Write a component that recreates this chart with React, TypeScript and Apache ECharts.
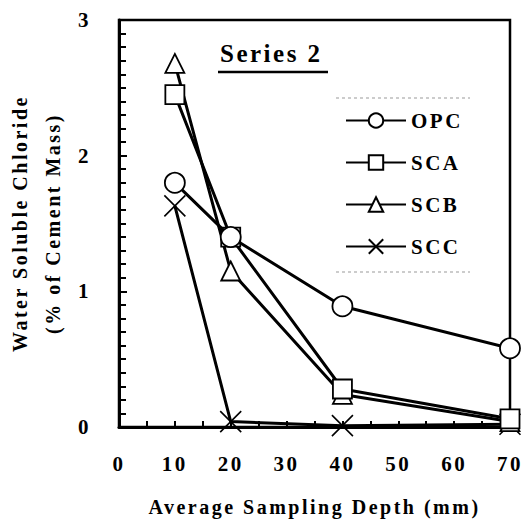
import React, { useEffect, useRef } from "react";
import * as echarts from "echarts";

const depths = [10, 20, 40, 70];
const opc = [1.8, 1.4, 0.89, 0.58];
const sca = [2.45, 1.4, 0.28, 0.06];
const scb = [2.68, 1.15, 0.24, 0.04];
const scc = [1.63, 0.04, 0.01, 0.02];
const seriesNames = ["OPC", "SCA", "SCB", "SCC"];
const chartTitle = "Series 2";
const xTitle = "Average Sampling Depth (mm)";
const yTitle = "Water Soluble Chloride\n(% of Cement Mass)";

const FONT = "Liberation Serif";

export default function App() {
  const ref = useRef<HTMLDivElement>(null);
  useEffect(() => {
    if (!ref.current) return;
    const chart = echarts.init(ref.current, undefined, { renderer: "svg" });
    const pair = (vals: number[]) => depths.map((d, i) => [d, vals[i]]);
    const symbols = ["circle", "rect", "triangle", "path://M0,0L20,20M20,0L0,20"];
    const sizes = [20, 19, 19, 21];
    const data = [opc, sca, scb, scc];
    const series = seriesNames.map((name, i) => ({
      name,
      type: "line",
      data: pair(data[i]),
      symbol: symbols[i],
      symbolSize: sizes[i],
      showAllSymbol: true,
      z: 10 - i,
      lineStyle: { color: "#000", width: 3 },
      itemStyle: {
        color: i === 3 ? "transparent" : "#fff",
        borderColor: "#000",
        borderWidth: i === 3 ? 1.6 : 1.8,
      },
    }));
    chart.setOption({
      animation: false,
      backgroundColor: "#fff",
      textStyle: { fontFamily: FONT, fontWeight: "bold", color: "#000" },
      grid: {
        left: 119,
        top: 20,
        width: 391,
        height: 407,
        containLabel: false,
        outerBoundsMode: "none",
        show: true,
        borderColor: "#000",
        borderWidth: 2.5,
      },
      legend: {
        orient: "vertical",
        left: 345,
        top: 110,
        padding: 0,
        itemWidth: 60,
        itemHeight: 18,
        itemGap: 21,
        data: seriesNames,
        textStyle: { fontFamily: FONT, fontWeight: "bold", fontSize: 21, color: "#000" },
      },
      xAxis: {
        type: "value",
        min: 0,
        max: 70,
        interval: 10,
        name: xTitle,
        nameLocation: "middle",
        nameGap: 70,
        nameTextStyle: { fontFamily: FONT, fontWeight: "bold", fontSize: 20, color: "#000" },
        axisLine: { lineStyle: { color: "#000", width: 3 } },
        axisTick: { inside: true, length: 6, lineStyle: { color: "#000", width: 2 } },
        minorTick: { show: true, splitNumber: 2, length: 6, lineStyle: { color: "#000", width: 2 } },
        splitLine: { show: false },
        axisLabel: { margin: 26, fontFamily: FONT, fontWeight: "bold", fontSize: 21, color: "#000" },
      },
      yAxis: {
        type: "value",
        min: 0,
        max: 3,
        interval: 1,
        name: yTitle,
        nameLocation: "middle",
        nameRotate: 90,
        nameGap: 44,
        nameTextStyle: { fontFamily: FONT, fontWeight: "bold", fontSize: 20, lineHeight: 33, color: "#000" },
        axisLine: { lineStyle: { color: "#000", width: 3 } },
        axisTick: { inside: true, length: 8, lineStyle: { color: "#000", width: 2 } },
        minorTick: { show: true, splitNumber: 10, length: 7, lineStyle: { color: "#000", width: 2 } },
        splitLine: { show: false },
        axisLabel: { margin: 28, fontFamily: FONT, fontWeight: "bold", fontSize: 21, color: "#000" },
      },
      graphic: [
        {
          type: "text",
          left: 220,
          top: 41,
          style: { text: chartTitle, fontFamily: FONT, fontWeight: "bold", fontSize: 25, fill: "#000" },
        },
        {
          type: "line",
          shape: { x1: 218, y1: 72, x2: 328, y2: 72 },
          style: { stroke: "#000", lineWidth: 2.5 },
        },
        {
          type: "line",
          shape: { x1: 336, y1: 98, x2: 470, y2: 98 },
          style: { stroke: "#999", lineWidth: 1, lineDash: [3, 3] },
        },
        {
          type: "line",
          shape: { x1: 336, y1: 272, x2: 470, y2: 272 },
          style: { stroke: "#999", lineWidth: 1, lineDash: [3, 3] },
        },
      ],
      series,
    });
    return () => chart.dispose();
  }, []);
  return (
    <div
      ref={ref}
      style={{ position: "fixed", left: 0, top: 0, width: 524, height: 523, letterSpacing: "2.5px" }}
    />
  );
}
